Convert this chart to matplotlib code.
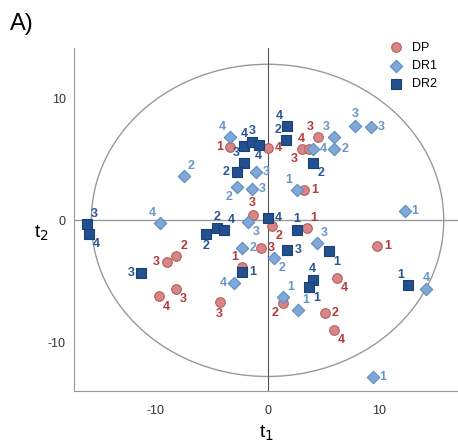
import matplotlib.pyplot as plt
from matplotlib.patches import Ellipse

plt.rcParams['font.family'] = ['Liberation Sans', 'DejaVu Sans']
plt.rcParams['axes.unicode_minus'] = False

# DP (circles)
dp_x = [-3.36, 0.0, 4.56, 3.07, 3.75, 3.27, -1.33, 0.37, 3.5, 9.8, -0.61,
        -2.26, 6.2, 1.36, 5.16, 5.96, -9.0, -8.2, -9.73, -8.2, -4.3]
dp_y = [6.0, 5.9, 6.8, 5.84, 5.84, 2.5, 0.45, -0.45, -0.64, -2.14, -2.28,
        -3.8, -4.7, -6.8, -7.6, -8.98, -3.4, -2.9, -6.24, -5.6, -6.7]
dp_lab = ['1', '4', '3', '3', '4', '1', '3', '2', '1', '1', '3',
          '1', '4', '2', '2', '4', '3', '2', '4', '3', '3']

# DR1 (diamonds)
dr1_x = [-3.36, -7.5, -2.76, -1.4, -1.03, 4.1, 6.0, 6.0, 7.85, 9.25, 2.6,
         12.3, -1.72, -9.64, 4.4, -2.26, 0.61, -3.0, 1.42, 2.77, 14.2, 9.43]
dr1_y = [6.8, 3.6, 2.77, 2.6, 4.0, 5.84, 6.8, 5.86, 7.77, 7.64, 2.5,
         0.78, -0.1, -0.23, -1.87, -2.23, -3.1, -5.1, -6.3, -7.34, -5.64, -12.85]
dr1_lab = ['4', '2', '2', '3', '3', '4', '3', '2', '3', '3', '1',
           '1', '3', '4', '3', '2', '2', '4', '1', '1', '4', '1']

# DR2 (squares)
dr2_x = [-2.1, -1.4, -0.8, -2.1, -2.76, 1.72, 1.66, 4.1, 0.0, 2.6, 5.55,
         1.78, -2.26, 4.05, 3.72, 12.6, -16.2, -16.0, -11.3, -4.55, -3.9, -5.5]
dr2_y = [6.1, 6.4, 6.2, 4.7, 4.0, 7.7, 6.55, 4.7, 0.23, -0.83, -2.55,
         -2.47, -4.2, -4.93, -5.5, -5.34, -0.31, -1.13, -4.33, -0.64, -0.78, -1.13]
dr2_lab = ['4', '3', '4', '3', '2', '4', '2', '2', '4', '1', '1',
           '3', '1', '4', '1', '1', '3', '4', '3', '2', '4', '2']

# label placement around each marker
dp_pos = ['l', 'r', 'al', 'bl', 'al', 'r', 'a', 'br', 'ar', 'r', 'r',
          'al', 'br', 'bl', 'r', 'br', 'l', 'ar', 'br', 'br', 'b']
dr1_pos = ['al', 'ar', 'bl', 'r', 'r', 'r', 'al', 'r', 'a', 'r', 'al',
           'r', 'br', 'al', 'ar', 'r', 'br', 'l', 'ar', 'ar', 'a', 'r']
dr2_pos = ['a', 'a', 'b', 'al', 'l', 'al', 'al', 'br', 'r', 'a', 'br',
           'r', 'r', 'a', 'br', 'al', 'ar', 'br', 'l', 'a', 'ar', 'b']

offsets = {
    'r': ((5, 0), 'left', 'center'),
    'l': ((-5, 0), 'right', 'center'),
    'a': ((0, 4), 'center', 'bottom'),
    'b': ((0, -4), 'center', 'top'),
    'al': ((-3, 3), 'right', 'bottom'),
    'ar': ((3, 3), 'left', 'bottom'),
    'bl': ((-3, -3), 'right', 'top'),
    'br': ((3, -3), 'left', 'top'),
}

fig = plt.figure(figsize=(4.58, 4.48), dpi=100)
ax = fig.add_axes([0.1616, 0.127, 0.8384, 0.766])

ax.add_patch(Ellipse((0, 0), 31.6, 25.6, fill=False, ec='#999999', lw=1.0))
ax.axhline(0, color='#999999', lw=1.0, zorder=1)
ax.axvline(0, color='#555555', lw=0.8, zorder=1)

groups = [
    (dp_x, dp_y, dp_lab, dp_pos, 'o', '#d98585', '#b86060', '#b23c3c', 'DP', 48),
    (dr1_x, dr1_y, dr1_lab, dr1_pos, 'D', '#80a8d6', '#5f8cc4', '#6a95c9', 'DR1', 40),
    (dr2_x, dr2_y, dr2_lab, dr2_pos, 's', '#22508e', '#1b4278', '#2a5592', 'DR2', 42),
]

for xs, ys, labs, pos, mk, fc, ec, tc, name, size in groups:
    ax.scatter(xs, ys, marker=mk, s=size, c=fc, edgecolors=ec, linewidths=0.8,
               label=name, zorder=3)
    for x, y, t, p in zip(xs, ys, labs, pos):
        off, ha, va = offsets[p]
        ax.annotate(t, (x, y), xytext=off, textcoords='offset points',
                    ha=ha, va=va, fontsize=9, fontweight='bold', color=tc, zorder=4)

ax.set_xlim(-17.35, 17.08)
ax.set_ylim(-14.0, 14.14)
ax.set_xticks([-10, 0, 10])
ax.set_yticks([-10, 0, 10])
ax.tick_params(axis='x', length=0, labelsize=9, pad=10, labelcolor='#333333')
ax.tick_params(axis='y', length=0, labelsize=9, pad=6, labelcolor='#333333')
for s in ['top', 'right']:
    ax.spines[s].set_visible(False)
for s in ['left', 'bottom']:
    ax.spines[s].set_color('#999999')

ax.set_xlabel('t$_1$', fontsize=14, labelpad=5)
ax.set_ylabel('t$_2$', fontsize=14, rotation=0, va='center')
ax.yaxis.set_label_coords(-0.085, 0.46)

ax.legend(loc='upper right', bbox_to_anchor=(0.966, 1.04), frameon=False,
          fontsize=9, handletextpad=0.3, labelspacing=0.5, borderaxespad=0.2)

fig.text(0.022, 0.97, 'A)', fontsize=17, va='top', ha='left')

fig.savefig('out.png', dpi=100)
